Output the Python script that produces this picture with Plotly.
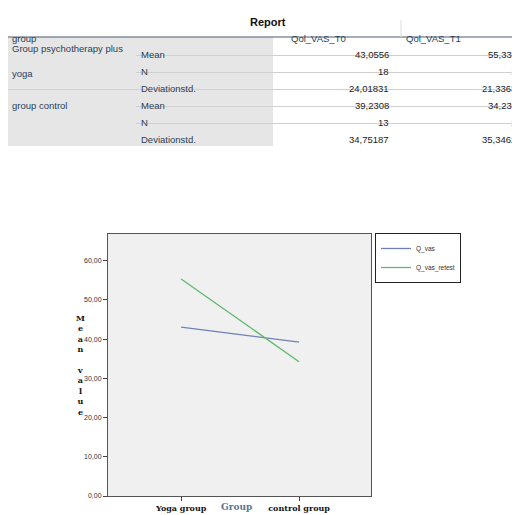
import plotly.graph_objects as go

groups = ["Yoga group", "control group"]
q_vas = [43.0556, 39.2308]
q_vas_retest = [55.3333, 34.2308]
series_names = ["Q_vas", "Q_vas_retest"]

tbl_cols = ["Qol_VAS_T0", "Qol_VAS_T1"]
tbl_groups = ["Group psychotherapy plus<br><br>yoga", "group control"]
tbl_stats = ["Mean", "N", "Deviationstd."]
tbl_t0 = ["43,0556", "18", "24,01831", "39,2308", "13", "34,75187"]
tbl_t1 = ["55,3333", "15", "21,33631", "34,2308", "13", "35,34627"]

L, R, T, B = 100, 363, 226, 488
def px(x): return (x - L) / (R - L)
def py(y): return (B - y) / (B - T)

fig = go.Figure()
fig.add_trace(go.Scatter(x=[0, 1], y=q_vas, mode="lines", name=series_names[0],
                         line=dict(color="#7080b8", width=1.3)))
fig.add_trace(go.Scatter(x=[0, 1], y=q_vas_retest, mode="lines", name=series_names[1],
                         line=dict(color="#5cba6a", width=1.3)))

shapes, ann = [], []
P = dict(xref="paper", yref="paper", showarrow=False)
tf = dict(family="Liberation Sans, Arial", size=9.5, color="#2b3f55")
nf = dict(family="Liberation Sans, Arial", size=9.5, color="#222")
ann.append(dict(x=px(260), y=py(6), text="<b>Report</b>", **P,
                font=dict(family="Liberation Sans, Arial", size=11, color="#111")))
shapes.append(dict(type="rect", xref="paper", yref="paper", x0=px(0), x1=px(265),
                   y0=py(138), y1=py(29), fillcolor="#e6e6e6", line_width=0, layer="below"))
shapes.append(dict(type="line", xref="paper", yref="paper", x0=px(0), x1=px(520),
                   y0=py(29), y1=py(29), line=dict(color="#4a5d70", width=1.2)))
shapes.append(dict(type="line", xref="paper", yref="paper", x0=px(393), x1=px(393),
                   y0=py(12), y1=py(29), line=dict(color="#ddd", width=1)))
ann.append(dict(x=px(2), y=py(23), text="group", xanchor="left", font=tf, **P))
ann.append(dict(x=px(340), y=py(23), text=tbl_cols[0], font=tf, **P))
ann.append(dict(x=px(455), y=py(23), text=tbl_cols[1], font=tf, **P))
rows_y = [39, 56, 73, 90, 107, 124]
for i, ry in enumerate(rows_y):
    ann.append(dict(x=px(131), y=py(ry), text=tbl_stats[i % 3], xanchor="left", font=tf, **P))
    ann.append(dict(x=px(383), y=py(ry), text=tbl_t0[i], xanchor="right", font=nf, **P))
    ann.append(dict(x=px(516), y=py(ry), text=tbl_t1[i], xanchor="right", font=nf, **P))
    if i < 5:
        x0 = 0 if i == 2 else 128
        shapes.append(dict(type="line", xref="paper", yref="paper", x0=px(x0), x1=px(520),
                           y0=py(ry + 8.5), y1=py(ry + 8.5), line=dict(color="#d0d0d0", width=1)))
ann.append(dict(x=px(2), y=py(33), text=tbl_groups[0], xanchor="left",
                yanchor="top", font=tf, align="left", **P))
ann.append(dict(x=px(2), y=py(90), text=tbl_groups[1], xanchor="left", font=tf, **P))
ann.append(dict(x=px(66), y=py(357), text="<b>" + "<br>".join("Mean") + "<br> <br>" + "<br>".join("value") + "</b>",
                font=dict(family="DejaVu Serif", size=8, color="#111"), align="center", **P))
ann.append(dict(x=px(228), y=py(506), text="<b>Group</b>",
                font=dict(family="DejaVu Serif", size=9, color="#5a7890"), **P))

fig.update_layout(
    width=520, height=515, margin=dict(l=L, r=520 - R, t=T, b=515 - B, autoexpand=False),
    paper_bgcolor="white", plot_bgcolor="#f0f0f0", separators=",.",
    shapes=shapes, annotations=ann,
    legend=dict(x=px(367), y=py(225), xanchor="left", yanchor="top",
                bordercolor="#222", borderwidth=1, bgcolor="white",
                font=dict(family="Liberation Sans, Arial", size=6.5, color="#333"),
                tracegroupgap=0, itemwidth=30),
    xaxis=dict(range=[-0.62, 1.61], tickvals=[0, 1], ticktext=["<b>" + g + "</b>" for g in groups],
               showgrid=False, zeroline=False, ticks="outside", ticklen=4,
               tickfont=dict(family="DejaVu Serif", size=8, color="#111"),
               showline=True, linecolor="#555", mirror=True),
    yaxis=dict(range=[0, 66.8], tickvals=[0, 10, 20, 30, 40, 50, 60], tickformat=".2f",
               showgrid=False, zeroline=False, ticks="outside", ticklen=4,
               tickfont=dict(family="Liberation Sans, Arial", size=7, color="#333"),
               showline=True, linecolor="#555", mirror=True),
    showlegend=True,
)
fig.write_html("out.html")
